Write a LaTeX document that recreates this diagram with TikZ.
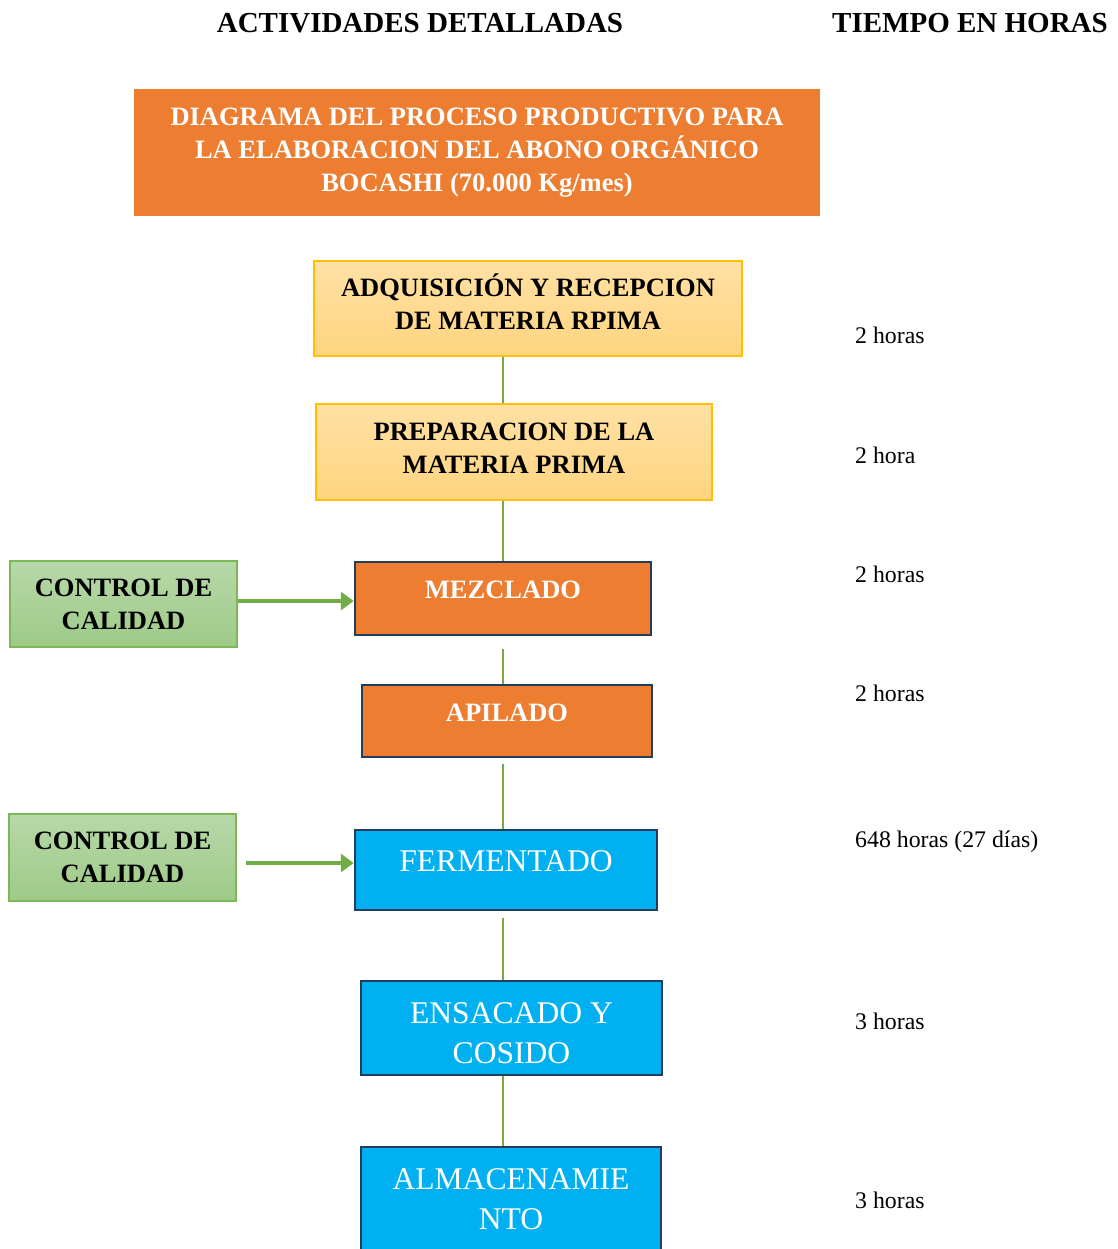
\documentclass[tikz,border=0pt]{standalone}
\usepackage{fontspec}
\setmainfont{Liberation Serif}
\usetikzlibrary{arrows.meta}

\definecolor{naranja}{HTML}{ED7D31}
\definecolor{amarilloA}{HTML}{FFE1A4}
\definecolor{amarilloB}{HTML}{FFD47F}
\definecolor{amarilloC}{HTML}{FFC000}
\definecolor{verdeA}{HTML}{B7D8A9}
\definecolor{verdeB}{HTML}{9ECA87}
\definecolor{verdeC}{HTML}{7DB857}
\definecolor{verde}{HTML}{70AD47}
\definecolor{marino}{HTML}{253D5B}
\definecolor{celeste}{HTML}{00B0F0}

\begin{document}
\begin{tikzpicture}
  [ x=1pt, y=-1pt
  , caja/.style={shape=rectangle, inner sep=0pt, align=center}
  , negrita/.style={font=\fontsize{26.5}{33}\selectfont\bfseries}
  , titulo/.style={font=\fontsize{29}{34}\selectfont\bfseries}
  , portada/.style={caja, negrita, fill=naranja, text=white}
  , materia/.style={caja, negrita, top color=amarilloA, bottom color=amarilloB,
                    draw=amarilloC, line width=1.5pt, text depth=13pt}
  , proceso/.style={caja, negrita, fill=naranja, draw=marino, line width=2.5pt,
                    text=white, text depth=17pt}
  , etapa/.style={caja, fill=celeste, draw=marino, line width=2.5pt, text=white,
                  font=\fontsize{31.6}{40}\selectfont}
  , control/.style={caja, negrita, top color=verdeA, bottom color=verdeB,
                    draw=verdeC, line width=1.5pt}
  , tiempo/.style={anchor=west, inner sep=0pt, font=\fontsize{23.8}{28}\selectfont}
  , enlace/.style={draw=verde, line width=2pt}
  , flecha/.style={enlace, line width=4pt, -{Triangle[length=13pt,width=18pt]}}
  ]

  \clip (0,0) rectangle (1117,1249);

  \node[titulo] (tact)  at (420,23) {ACTIVIDADES DETALLADAS};
  \node[titulo] (ttiem) at (970,23) {TIEMPO EN HORAS};

  \node[portada, minimum width=686pt, minimum height=127pt] (diag) at (477,152.5)
    {DIAGRAMA DEL PROCESO PRODUCTIVO PARA\\LA ELABORACION DEL ABONO ORGÁNICO\\BOCASHI (70.000 Kg/mes)};

  \node[materia, minimum width=428pt, minimum height=95pt] (adq)  at (528,308.5)
    {ADQUISICIÓN Y RECEPCION\\DE MATERIA RPIMA};
  \node[materia, text depth=7pt, minimum width=396pt, minimum height=96pt] (prep) at (514,452)
    {PREPARACION DE LA\\MATERIA PRIMA};
  \node[proceso, minimum width=296pt, minimum height=73pt] (mez)  at (503,598.5) {MEZCLADO};
  \node[proceso, minimum width=290pt, minimum height=72pt] (apil) at (507,721)   {APILADO};
  \node[etapa, text depth=18pt, minimum width=302pt, minimum height=80pt] (ferm) at (506,870) {FERMENTADO};
  \node[etapa, text height=72pt, minimum width=301pt, minimum height=94pt] (ens) at (511.5,1028) {ENSACADO Y\\COSIDO};
  \node[etapa, minimum width=300pt, minimum height=104pt] (alm) at (511,1199)   {ALMACENAMIE\\NTO};

  \node[control, minimum width=227pt, minimum height=86pt] (cal1) at (123.5,604)   {CONTROL DE\\CALIDAD};
  \node[control, minimum width=227pt, minimum height=87pt] (cal2) at (122.5,857.5) {CONTROL DE\\CALIDAD};

  % tiempos
  \node[tiempo] (t1) at (855,335)  {2 horas};
  \node[tiempo] (t2) at (855,455)  {2 hora};
  \node[tiempo] (t3) at (855,574)  {2 horas};
  \node[tiempo] (t4) at (855,693)  {2 horas};
  \node[tiempo] (t5) at (855,842)  {648 horas (27 días)};
  \node[tiempo] (t6) at (855,1021) {3 horas};
  \node[tiempo] (t7) at (855,1200) {3 horas};

  \coordinate (eje) at (503,0);
  \coordinate (f1) at ([yshift=3pt]cal1.east);
  \coordinate (f2) at ([yshift=-5.5pt]cal2.east);

  \draw[enlace] (adq.south -| eje) -- (prep.north -| eje);
  \draw[enlace] (prep.south -| eje) -- (mez.north -| eje);
  \draw[enlace, shorten <=13pt] (mez.south -| eje) -- (apil.north -| eje);
  \draw[enlace, shorten <=6pt]  (apil.south -| eje) -- (ferm.north -| eje);
  \draw[enlace, shorten <=7pt]  (ferm.south -| eje) -- (ens.north -| eje);
  \draw[enlace] (ens.south -| eje) -- (alm.north -| eje);

  \draw[flecha] (f1) -- (f1 -| mez.west);
  \draw[flecha, shorten <=9pt] (f2) -- (f2 -| ferm.west);

\end{tikzpicture}
\end{document}
